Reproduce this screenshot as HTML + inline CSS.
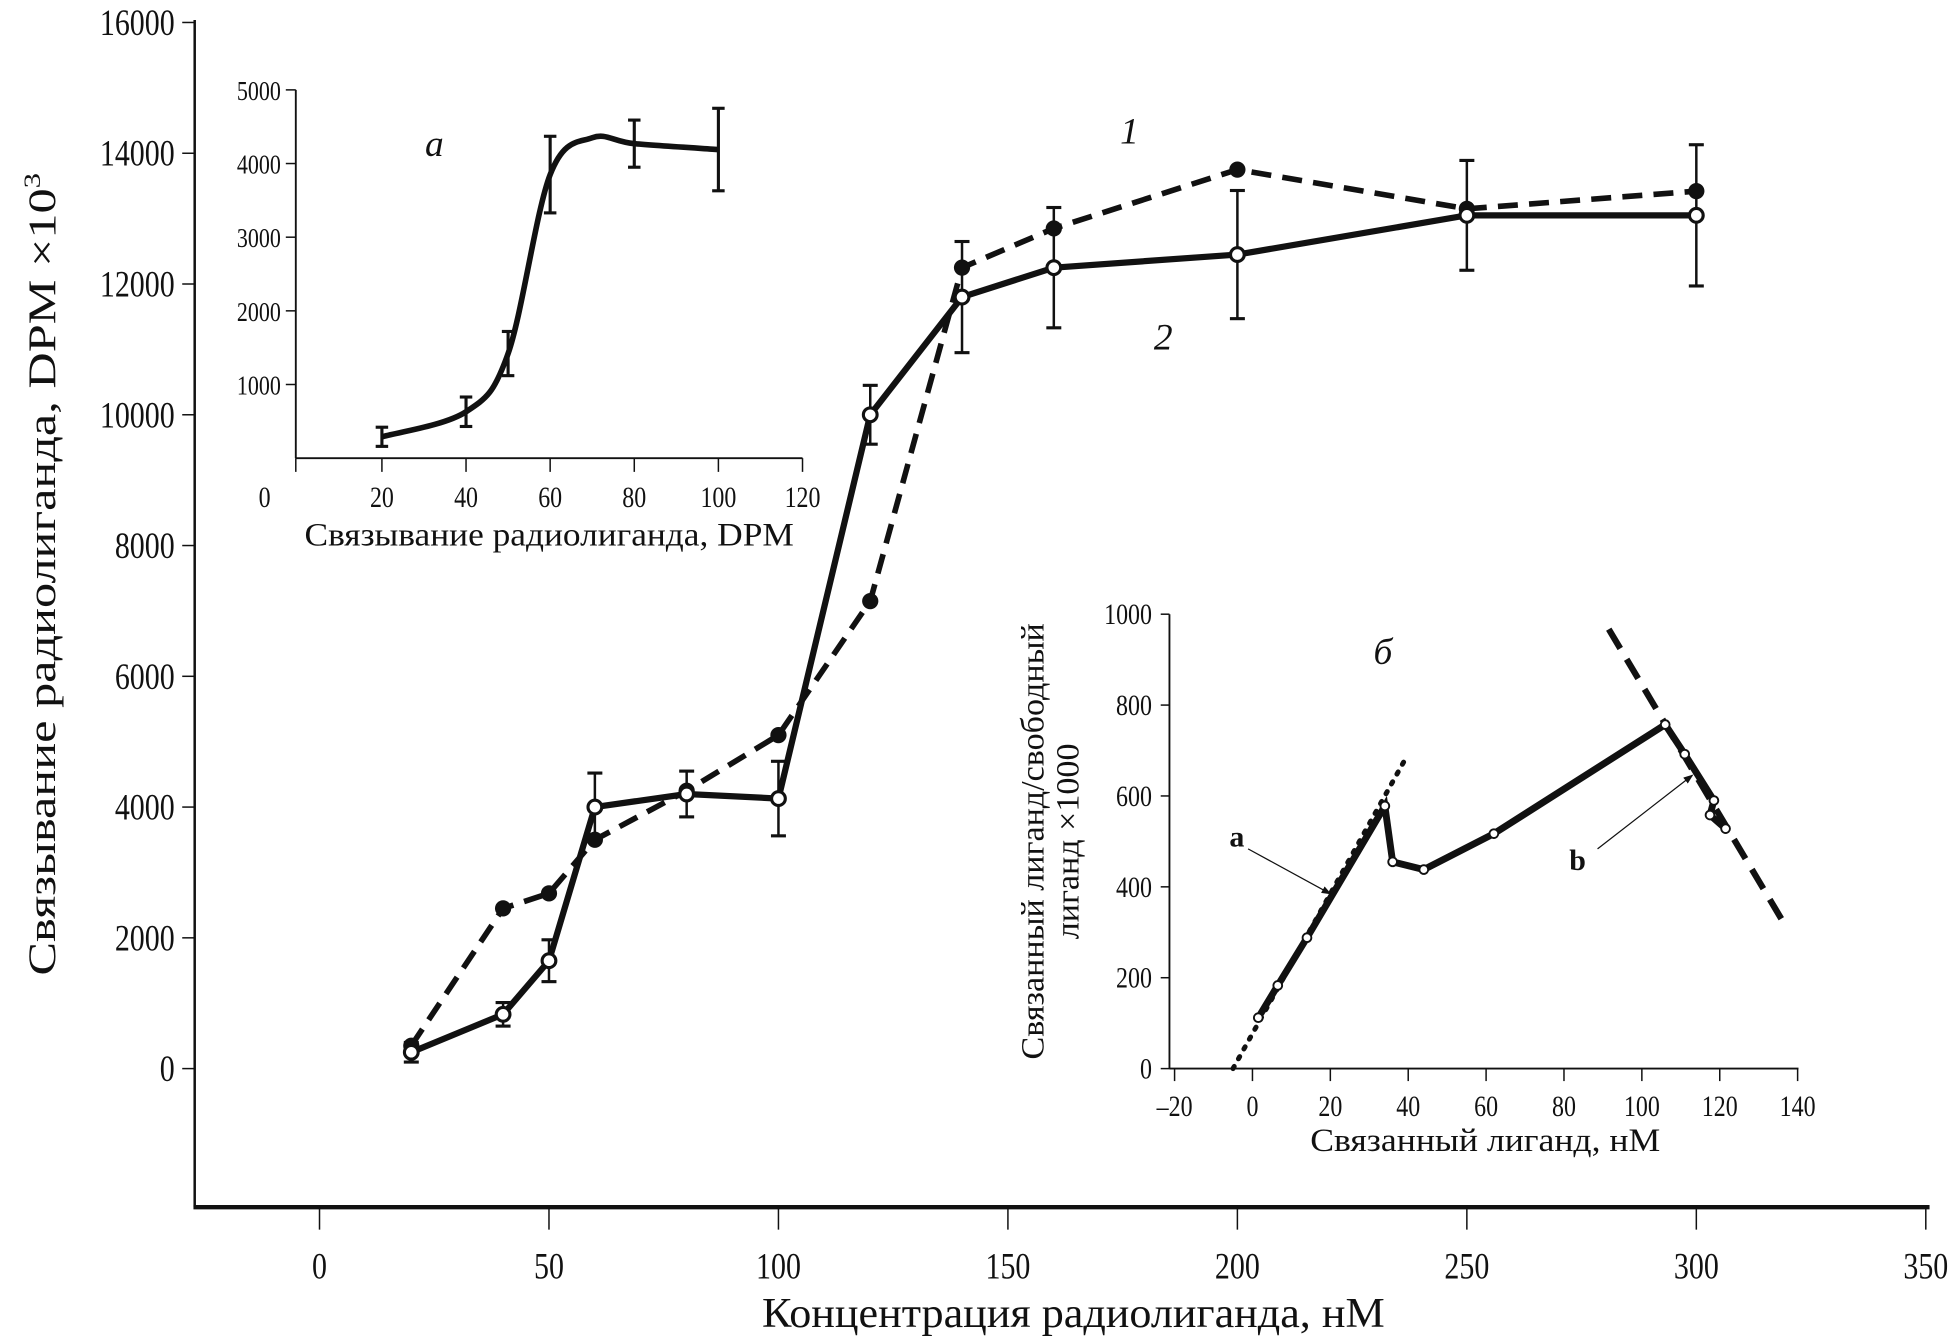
<!DOCTYPE html>
<html><head><meta charset="utf-8"><style>html,body{margin:0;padding:0;background:#fff}svg{display:block}</style></head>
<body>
<svg id="chart" xmlns="http://www.w3.org/2000/svg" width="1957" height="1337" viewBox="0 0 1568 1071" preserveAspectRatio="none"></svg>
<script>
// ---- main chart data ----
const mainX = [20,40,50,60,80,100,120,140,160,200,250,300];
const series1 = [350,2450,2680,3500,4250,5100,7150,12250,12850,13750,13150,13420];
const series2 = [250,830,1650,4000,4200,4130,10000,11800,12250,12450,13050,13050];
const series2Err = [150,180,320,520,350,570,450,850,920,980,840,1080];
const mainXTicks = [0,50,100,150,200,250,300,350];
const mainYTicks = [0,2000,4000,6000,8000,10000,12000,14000,16000];
// ---- inset a data ----
const insetAX = [20,40,50,60,70,80,100];
const insetAY = [290,630,1420,3850,4350,4270,4190];
const insetAErr = [130,200,300,520,0,320,560];
const insetAXTicks = [20,40,60,80,100,120];
const insetAYTicks = [1000,2000,3000,4000,5000];
// ---- inset б data ----
const insetBX = [1.5,6.5,14,34,36,44,62,106,111,118.5,117.5,121.5];
const insetBY = [112,183,288,578,455,438,517,757,692,590,558,528];
const lineAX = [-5,39.5];
const lineAY = [0,685];
const lineBX = [91.5,136];
const lineBY = [967,327];
const insetBXTicks = [-20,0,20,40,60,80,100,120,140];
const insetBYTicks = [0,200,400,600,800,1000];

const svg = document.getElementById('chart');
const NS = 'http://www.w3.org/2000/svg';
function el(tag, attrs, parent){const e=document.createElementNS(NS,tag);for(const k in attrs)e.setAttribute(k,attrs[k]);(parent||svg).appendChild(e);return e;}
function txt(x,y,s,size,anchor,opts,parent){
  opts=opts||{};
  const g=el('g',{transform:`translate(${x},${y}) ${opts.rot?'rotate('+opts.rot+')':''} scale(${opts.sx||0.8},1)`},parent);
  const t=el('text',{x:0,y:0,'font-family':'"Liberation Serif", serif','font-size':size,'text-anchor':anchor||'middle','font-style':opts.italic?'italic':'normal','font-weight':opts.bold?'bold':'normal',fill:'#111'},g);
  t.textContent=s;return t;
}
// main axes
const mx=v=>256+v*(1543-256)/350, my=v=>856-v*(856-18)/16000;
const ax=el('g',{});

el('line',{x1:156,y1:16,x2:156,y2:967,stroke:'#111','stroke-width':2},ax);
el('line',{x1:155,y1:967,x2:1546,y2:967,stroke:'#111','stroke-width':3.5},ax);
mainXTicks.forEach(v=>{el('line',{x1:mx(v),y1:967,x2:mx(v),y2:985,stroke:'#111','stroke-width':1.2},ax);
  const t=txt(mx(v),1024,String(v),30,'middle',{},ax);});
mainYTicks.forEach(v=>{el('line',{x1:146,y1:my(v),x2:156,y2:my(v),stroke:'#111','stroke-width':1.2},ax);
  const t=txt(140,my(v)+10,String(v),30,'end',{},ax);});
let t=txt(860,1063,'Концентрация радиолиганда, нМ',34,'middle',{sx:1.04},ax);

const yt=el('g',{transform:'translate(44,460) rotate(-90) scale(1.3,1)'});

const ytt=el('text',{x:0,y:0,'font-family':'"Liberation Serif", serif','font-size':31,'text-anchor':'middle',fill:'#111'},yt);
ytt.innerHTML='Связывание радиолиганда, DPM ×10<tspan dy="-12" font-size="19">3</tspan>';

function pts(xs,ys,fx,fy){return xs.map((x,i)=>fx(x)+','+fy(ys[i])).join(' ');}
// series 2 error bars
series2Err.forEach((e,i)=>{const x=mx(mainX[i]);const g=el('g',{});
  
  el('line',{x1:x,y1:my(series2[i]+e),x2:x,y2:my(series2[i]-e),stroke:'#111','stroke-width':2},g);
  [e,-e].forEach(d=>el('line',{x1:x-6,x2:x+6,y1:my(series2[i]+d),y2:my(series2[i]+d),stroke:'#111','stroke-width':2.5},g));});
const l1=el('polyline',{points:pts(mainX,series1,mx,my),fill:'none',stroke:'#111','stroke-width':4.5,'stroke-dasharray':'16,9'});

const l2=el('polyline',{points:pts(mainX,series2,mx,my),fill:'none',stroke:'#111','stroke-width':5});

mainX.forEach((x,i)=>{const c=el('circle',{cx:mx(x),cy:my(series1[i]),r:6.5,fill:'#111'});
  });
mainX.forEach((x,i)=>{const c=el('circle',{cx:mx(x),cy:my(series2[i]),r:5.5,fill:'#fff',stroke:'#111','stroke-width':2.5});
  });
t=txt(905,115,'1',30,'middle',{italic:true,sx:1});
t=txt(932,280,'2',30,'middle',{italic:true,sx:1});

// inset a
const ax_=v=>306+(v-20)*(643-306)/100, ay_=v=>367-v*0.0590;
const ia=el('g',{});
el('line',{x1:237,y1:72,x2:237,y2:367,stroke:'#111','stroke-width':1.5},ia);
el('line',{x1:237,y1:367,x2:643,y2:367,stroke:'#111','stroke-width':1.5},ia);
el('line',{x1:237,y1:367,x2:237,y2:378,stroke:'#111','stroke-width':1.2},ia);
txt(212,406,'0',24,'middle',{},ia);
insetAXTicks.forEach(v=>{el('line',{x1:ax_(v),y1:367,x2:ax_(v),y2:378,stroke:'#111','stroke-width':1.2},ia);txt(ax_(v),406,String(v),24,'middle',{},ia);});
insetAYTicks.forEach(v=>{el('line',{x1:229,y1:ay_(v),x2:237,y2:ay_(v),stroke:'#111','stroke-width':1.2},ia);txt(225,ay_(v)+8,String(v),22,'end',{},ia);});
t=txt(440,437,'Связывание радиолиганда, DPM',26,'middle',{sx:1.09},ia);
txt(348,125,'а',30,'middle',{italic:true,sx:1},ia);
(function(){const P=insetAX.map((x,i)=>[ax_(x),ay_(insetAY[i])]);let d='M'+P[0];
  for(let i=0;i<P.length-1;i++){const p0=P[i-1]||P[i],p1=P[i],p2=P[i+1],p3=P[i+2]||p2;
    d+=` C${p1[0]+(p2[0]-p0[0])/6},${p1[1]+(p2[1]-p0[1])/6} ${p2[0]-(p3[0]-p1[0])/6},${p2[1]-(p3[1]-p1[1])/6} ${p2[0]},${p2[1]}`;}
  const c=el('path',{d:d,fill:'none',stroke:'#111','stroke-width':4.5},ia);})();
insetAErr.forEach((e,i)=>{if(!e)return;const x=ax_(insetAX[i]);
  el('line',{x1:x,y1:ay_(insetAY[i]+e),x2:x,y2:ay_(insetAY[i]-e),stroke:'#111','stroke-width':2.5},ia);
  [e,-e].forEach(d=>el('line',{x1:x-5,x2:x+5,y1:ay_(insetAY[i]+d),y2:ay_(insetAY[i]+d),stroke:'#111','stroke-width':2.5},ia));});

// inset б
const bx=v=>1003.5+v*3.12, by=v=>856-v*0.364;
const ib=el('g',{});
el('line',{x1:937,y1:492,x2:937,y2:856,stroke:'#111','stroke-width':1.5},ib);
el('line',{x1:937,y1:856,x2:1441,y2:856,stroke:'#111','stroke-width':1.5},ib);
insetBXTicks.forEach(v=>{el('line',{x1:bx(v),y1:856,x2:bx(v),y2:866,stroke:'#111','stroke-width':1.2},ib);txt(bx(v),894,v<0?'–'+(-v):String(v),24,'middle',{},ib);});
insetBYTicks.forEach(v=>{el('line',{x1:930,y1:by(v),x2:937,y2:by(v),stroke:'#111','stroke-width':1.2},ib);txt(923,by(v)+8,String(v),24,'end',{},ib);});
t=txt(1190,922,'Связанный лиганд, нМ',26,'middle',{sx:1.1},ib);
txt(836,674,'Связанный лиганд/свободный',26,'middle',{rot:-90,sx:1.05},ib);
txt(864,674,'лиганд ×1000',26,'middle',{rot:-90,sx:1.05},ib);
txt(1108,532,'б',30,'middle',{italic:true,sx:1},ib);
const la=el('polyline',{points:pts(lineAX,lineAY,bx,by),fill:'none',stroke:'#111','stroke-width':4,'stroke-dasharray':'2,7','stroke-linecap':'round'},ib);

const lb=el('polyline',{points:pts(lineBX,lineBY,bx,by),fill:'none',stroke:'#111','stroke-width':5,'stroke-dasharray':'18,10'},ib);

const sl=el('polyline',{points:pts(insetBX,insetBY,bx,by),fill:'none',stroke:'#111','stroke-width':5.5},ib);

insetBX.forEach((x,i)=>{const c=el('circle',{cx:bx(x),cy:by(insetBY[i]),r:3.5,fill:'#fff',stroke:'#111','stroke-width':1.5},ib);
  });
el('defs',{}).innerHTML='<marker id="ar" markerWidth="8" markerHeight="6" refX="7" refY="3" orient="auto"><path d="M0,0 L8,3 L0,6 z" fill="#111"/></marker>';
el('line',{x1:1000,y1:680,x2:1066,y2:716,stroke:'#111','stroke-width':1,'marker-end':'url(#ar)'},ib);
el('line',{x1:1280,y1:680,x2:1356,y2:621,stroke:'#111','stroke-width':1,'marker-end':'url(#ar)'},ib);
txt(991,678,'a',24,'middle',{bold:true,sx:1},ib);
txt(1264,697,'b',24,'middle',{bold:true,sx:1},ib);
</script>
</body></html>
